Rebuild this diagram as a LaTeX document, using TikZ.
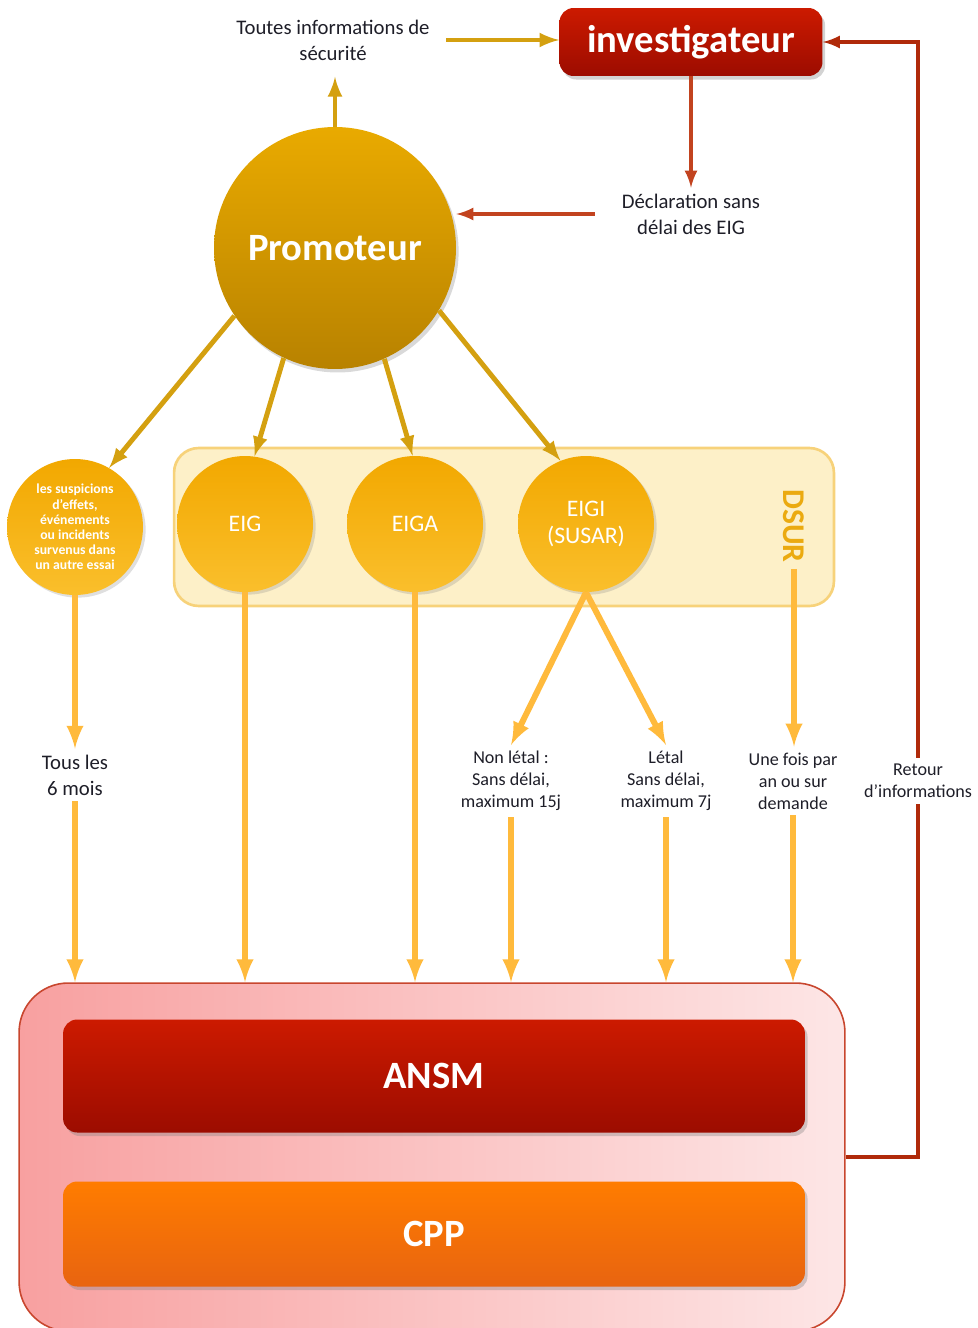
\documentclass[tikz,border=0pt]{standalone}
\usepackage{fontspec}
\setmainfont{Carlito}
\usepackage{xcolor}
\usetikzlibrary{calc,positioning,shadows}

\definecolor{rougehaut}{HTML}{CC1A00}
\definecolor{rougebas}{HTML}{9C0C00}
\definecolor{brique}{HTML}{C2431F}
\definecolor{retourcol}{HTML}{B02A0A}
\definecolor{orfleche}{HTML}{D4A010}
\definecolor{orclair}{HTML}{FFBA3C}
\definecolor{promhaut}{HTML}{E9AA00}
\definecolor{prombas}{HTML}{B88200}
\definecolor{bulhaut}{HTML}{F2A800}
\definecolor{bulbas}{HTML}{FABF2C}
\definecolor{dsurfond}{HTML}{FDF0C8}
\definecolor{dsurbord}{HTML}{F7D27A}
\definecolor{dsurtexte}{HTML}{EBAA10}
\definecolor{cadregauche}{HTML}{F8A0A0}
\definecolor{cadredroit}{HTML}{FDE6E6}
\definecolor{cadrebord}{HTML}{C8462E}
\definecolor{cpphaut}{HTML}{FF7C00}
\definecolor{cppbas}{HTML}{E86410}
\definecolor{texte}{HTML}{1E1E28}

\begin{document}
\begin{tikzpicture}[x=0.02cm,y=-0.02cm,
    boite/.style={rounded corners=8pt,text=white,font=\fontsize{22}{26}\selectfont\bfseries,
      drop shadow={opacity=0.35,shadow xshift=1.5pt,shadow yshift=-2pt}},
    bulle/.style={circle,inner sep=0pt,minimum size=2.72cm,top color=bulhaut,bottom color=bulbas,
      text=white,align=center,font=\fontsize{13.5}{15}\selectfont,
      drop shadow={opacity=0.25,shadow xshift=1.5pt,shadow yshift=-1.5pt}},
    legende/.style={align=center,text=texte,font=\fontsize{10.3}{12.5}\selectfont},
    grandtexte/.style={align=center,text=texte,font=\fontsize{11.8}{14.7}\selectfont},
    fleche or/.style={-latex,line width=2.8pt,orfleche},
    fleche clair/.style={-latex,line width=3.4pt,orclair},
    fleche rouge/.style={-latex,line width=2.3pt,brique}]
	\useasboundingbox (0,0) rectangle (977,1328);
	\clip (0,0) rectangle (977,1328);
		\node[boite,top color=rougehaut,bottom color=rougebas,minimum width=5.26cm,minimum height=1.36cm] (investigateur) at (691,42) {investigateur};
		\node[grandtexte] (toutes) at (333,40) {Toutes informations de\\sécurité};
		\node[grandtexte] (declaration) at (691,214) {Déclaration sans\\délai des EIG};
		\node[circle,inner sep=0pt,minimum size=4.84cm,top color=promhaut,bottom color=prombas,text=white,
		  font=\fontsize{22}{26}\selectfont\bfseries,drop shadow={opacity=0.3,shadow xshift=1.5pt,shadow yshift=-2pt}] (promoteur) at (335,248) {Promoteur};
		\node[rounded corners=14pt,fill=dsurfond,draw=dsurbord,line width=1.5pt,minimum width=13.2cm,minimum height=3.16cm] (dsur) at (504,527) {};
		\node[bulle,font=\fontsize{7.8}{8.6}\selectfont\bfseries] (autre) at (75,527) {les suspicions\\d’effets,\\événements\\ou incidents\\survenus dans\\un autre essai};
		\node[bulle] (eig) at (245,524) {EIG};
		\node[bulle] (eiga) at (415,524) {EIGA};
		\node[bulle] (eigi) at (586,524) {EIGI\\(SUSAR)};
		\node[rotate=-90,text=dsurtexte,font=\fontsize{18}{20}\selectfont\bfseries] (dsurtxt) at (794,526) {DSUR};
		\node[grandtexte] (tous) at (75,775) {Tous les\\6 mois};
		\node[legende] (nonletal) at (511,781) {Non létal :\\Sans délai,\\maximum 15j};
		\node[legende] (letal) at (666,781) {Létal\\Sans délai,\\maximum 7j};
		\node[legende] (unefois) at (793,781) {Une fois par\\an ou sur\\demande};
		\node[legende] (retour) at (918,781) {Retour\\d’informations};
		\node[rounded corners=28pt,left color=cadregauche,right color=cadredroit,draw=cadrebord,line width=0.9pt,
		  minimum width=16.52cm,minimum height=6.96cm] (cadre) at (432,1157) {};
		\node[boite,top color=rougehaut,bottom color=rougebas,minimum width=14.84cm,minimum height=2.26cm] (ansm) at (434,1076) {ANSM};
		\node[boite,top color=cpphaut,bottom color=cppbas,minimum width=14.84cm,minimum height=2.1cm] (cpp) at (434,1234) {CPP};
		\draw[fleche or,shorten >=6pt] (promoteur.north) -- (promoteur.north |- toutes.south);
		\draw[fleche or,shorten <=6pt] (toutes.east) -- (toutes.east -| investigateur.west);
		\draw[fleche or] (promoteur.214) -- (autre.60);
		\draw[fleche or] (promoteur.245) -- (eig.82);
		\draw[fleche or] (promoteur.294) -- (eiga.92);
		\draw[fleche or] (promoteur.329) -- (eigi.112);
		\draw[fleche rouge] (investigateur.south) -- (declaration.north);
		\draw[fleche rouge,shorten <=12pt] (declaration.west) -- (declaration.west -| promoteur.east);
		\draw[line width=2.3pt,retourcol] (cadre.east) -| (retour.south);
		\draw[fleche rouge,retourcol] (retour.north) |- (investigateur.east);
		\draw[fleche clair] (autre.south) -- (tous.north);
		\draw[fleche clair] (tous.south) -- (tous.south |- cadre.north);
		\draw[fleche clair] (eig.south) -- (eig.south |- cadre.north);
		\draw[fleche clair] (eiga.south) -- (eiga.south |- cadre.north);
		\draw[fleche clair] (eigi.south) -- (nonletal.north);
		\draw[fleche clair] (eigi.south) -- (letal.north);
		\draw[fleche clair] (dsurtxt.east) -- (dsurtxt.east |- unefois.north);
		\draw[fleche clair] (nonletal.south) -- (nonletal.south |- cadre.north);
		\draw[fleche clair] (letal.south) -- (letal.south |- cadre.north);
		\draw[fleche clair] (unefois.south) -- (unefois.south |- cadre.north);
	\end{tikzpicture}
\end{document}
